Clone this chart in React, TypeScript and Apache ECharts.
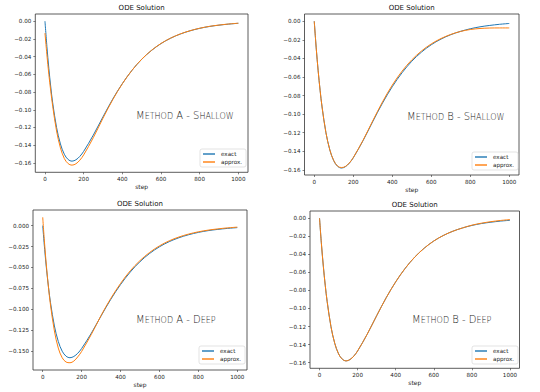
import React, { useEffect, useRef } from "react";
import * as echarts from "echarts";

const steps = [0, 10, 20, 30, 40, 60, 80, 100, 120, 140, 160, 180, 200, 250, 300, 350, 400, 450, 500, 550, 600, 650, 700, 750, 800, 850, 900, 950, 1000];

const exactValues = [0, -0.0286, -0.0532, -0.0743, -0.0922, -0.12, -0.1386, -0.1502, -0.1562, -0.158, -0.1565, -0.1527, -0.147, -0.1286, -0.108, -0.0881, -0.0705, -0.0555, -0.0431, -0.0332, -0.0253, -0.0192, -0.0145, -0.0109, -0.0081, -0.006, -0.0045, -0.0033, -0.0024];

const approxAShallow = [-0.0135, -0.038, -0.06, -0.079, -0.096, -0.124, -0.143, -0.155, -0.1608, -0.1625, -0.161, -0.157, -0.151, -0.1315, -0.1095, -0.0888, -0.0707, -0.0555, -0.043, -0.0331, -0.0252, -0.0191, -0.0144, -0.0108, -0.008, -0.0059, -0.0044, -0.0032, -0.0023];

const approxBShallow = [0, -0.0286, -0.0532, -0.0743, -0.0922, -0.12, -0.1386, -0.15, -0.156, -0.1575, -0.1563, -0.1525, -0.1468, -0.1282, -0.1072, -0.0868, -0.0688, -0.0538, -0.0416, -0.032, -0.0244, -0.0186, -0.0142, -0.011, -0.0089, -0.0078, -0.0073, -0.0072, -0.0072];

const approxADeep = [0.01, -0.023, -0.051, -0.075, -0.095, -0.126, -0.1465, -0.158, -0.1632, -0.164, -0.162, -0.157, -0.1505, -0.13, -0.1075, -0.087, -0.0692, -0.054, -0.0418, -0.032, -0.0242, -0.0182, -0.0136, -0.0101, -0.0074, -0.0054, -0.0039, -0.0027, -0.0018];

const approxBDeep = [0, -0.0286, -0.0532, -0.0743, -0.0922, -0.12, -0.1386, -0.1502, -0.1562, -0.158, -0.1565, -0.1527, -0.147, -0.1286, -0.108, -0.0881, -0.0705, -0.0555, -0.0431, -0.0332, -0.0253, -0.0192, -0.0145, -0.0109, -0.0078, -0.0056, -0.0039, -0.0026, -0.0016];

const xTicks = [0, 200, 400, 600, 800, 1000];
const yTicksA = [0, -0.02, -0.04, -0.06, -0.08, -0.1, -0.12, -0.14, -0.16];
const yTicksB = [0, -0.025, -0.05, -0.075, -0.1, -0.125, -0.15];

const titleText = "ODE Solution";
const seriesNames = ["exact", "approx."];
const panelLabels = [
  ["M", "ETHOD", "A", "S", "HALLOW"],
  ["M", "ETHOD", "B", "S", "HALLOW"],
  ["M", "ETHOD", "A", "D", "EEP"],
  ["M", "ETHOD", "B", "D", "EEP"],
];

const BLUE = "#1f77b4";
const ORANGE = "#ff7f0e";
const FONT = "DejaVu Sans";

const panels = [
  { grid: { left: 35.3, top: 14, width: 212.7, height: 158.3 }, y: [-0.1706, 0.0081], ticks: yTicksA, dec: 2, approx: approxAShallow, legend: { left: 200, top: 149 }, label: { x: 136, y: 115 } },
  { grid: { left: 304.5, top: 14, width: 214.5, height: 161 }, y: [-0.1655, 0.0078], ticks: yTicksA, dec: 2, approx: approxBShallow, legend: { left: 472, top: 152 }, label: { x: 407, y: 116 } },
  { grid: { left: 33, top: 210, width: 214, height: 160 }, y: [-0.1727, 0.0187], ticks: yTicksB, dec: 3, approx: approxADeep, legend: { left: 199, top: 346 }, label: { x: 136, y: 319 } },
  { grid: { left: 310, top: 211, width: 209.5, height: 157.3 }, y: [-0.1662, 0.0079], ticks: yTicksA, dec: 2, approx: approxBDeep, legend: { left: 472, top: 346 }, label: { x: 412, y: 319 } },
];

function fmt(v: number, dec: number) {
  if (Math.abs(v) < 1e-12) return (0).toFixed(dec);
  return (v < 0 ? "\u2212" : "") + Math.abs(v).toFixed(dec);
}

export default function App() {
  const ref = useRef<HTMLDivElement>(null);
  useEffect(() => {
    if (!ref.current) return;
    const chart = echarts.init(ref.current, undefined, { renderer: "svg" });
    const grid: any[] = [];
    const xAxis: any[] = [];
    const yAxis: any[] = [];
    const series: any[] = [];
    const legend: any[] = [];
    const graphic: any[] = [];
    panels.forEach((p, i) => {
      grid.push({
        ...p.grid,
        show: true,
        borderColor: "#333",
        borderWidth: 0.8,
        backgroundColor: "#fff",
        containLabel: false,
      });
      xAxis.push({
        type: "value",
        gridIndex: i,
        position: "bottom",
        min: -50,
        max: 1050,
        name: "step",
        nameLocation: "middle",
        nameGap: 11,
        nameTextStyle: { fontSize: 6, color: "#222", fontFamily: FONT },
        axisLine: { show: false, onZero: false },
        splitLine: { show: false },
        axisTick: { show: true, length: 2, lineStyle: { color: "#333", width: 0.6 }, customValues: xTicks },
        axisLabel: { fontSize: 5.6, color: "#222", fontFamily: FONT, margin: 4, customValues: xTicks, formatter: (v: number) => String(Math.round(v)) },
      });
      yAxis.push({
        type: "value",
        gridIndex: i,
        position: "left",
        min: p.y[0],
        max: p.y[1],
        axisLine: { show: false, onZero: false },
        splitLine: { show: false },
        axisTick: { show: true, length: 2, lineStyle: { color: "#333", width: 0.6 }, customValues: p.ticks },
        axisLabel: { fontSize: 5.6, color: "#222", fontFamily: FONT, margin: 4, customValues: p.ticks, formatter: (v: number) => fmt(v, p.dec) },
      });
      series.push({
        name: seriesNames[0],
        type: "line",
        xAxisIndex: i,
        yAxisIndex: i,
        data: steps.map((s, k) => [s, exactValues[k]]),
        showSymbol: false,
        smooth: 0.35,
        lineStyle: { color: BLUE, width: 1.0 },
        itemStyle: { color: BLUE },
        z: 2,
      });
      series.push({
        name: seriesNames[1],
        type: "line",
        xAxisIndex: i,
        yAxisIndex: i,
        data: steps.map((s, k) => [s, p.approx[k]]),
        showSymbol: false,
        smooth: 0.35,
        lineStyle: { color: ORANGE, width: 1.0 },
        itemStyle: { color: ORANGE },
        z: 3,
      });
      legend.push({
        data: seriesNames,
        left: p.legend.left,
        top: p.legend.top,
        orient: "vertical",
        icon: "rect",
        itemWidth: 12,
        itemHeight: 1.4,
        itemGap: 2,
        padding: [2, 4, 2, 3],
        backgroundColor: "rgba(255,255,255,0.85)",
        borderColor: "#d0d0d0",
        borderWidth: 0.6,
        borderRadius: 2,
        selectedMode: false,
        textStyle: { fontSize: 5.6, color: "#222", fontFamily: FONT, padding: [0, 0, 0, 1] },
      });
      const cx = p.grid.left + p.grid.width / 2;
      graphic.push({
        type: "text",
        x: cx,
        y: p.grid.top - 6.5,
        style: { text: titleText, fill: "#111", font: `7px "${FONT}"`, align: "center", verticalAlign: "middle" },
      });
      const L = panelLabels[i];
      graphic.push({
        type: "text",
        x: p.label.x,
        y: p.label.y,
        style: {
          text: `{c|${L[0]}}{s|${L[1]}}{c| ${L[2]} - ${L[3]}}{s|${L[4]}}`,
          align: "left",
          verticalAlign: "middle",
          fill: "#1a1a1a",
          rich: {
            c: { fontSize: 10, fontFamily: FONT, fontWeight: 200, fill: "#1a1a1a", verticalAlign: "bottom" },
            s: { fontSize: 8, fontFamily: FONT, fontWeight: 200, fill: "#1a1a1a", verticalAlign: "bottom" },
          },
        },
      });
    });
    chart.setOption({
      animation: false,
      backgroundColor: "#fff",
      grid,
      xAxis,
      yAxis,
      series,
      legend,
      graphic,
    });
    return () => chart.dispose();
  }, []);
  return <div ref={ref} style={{ position: "fixed", left: 0, top: 0, width: 540, height: 392 }} />;
}
